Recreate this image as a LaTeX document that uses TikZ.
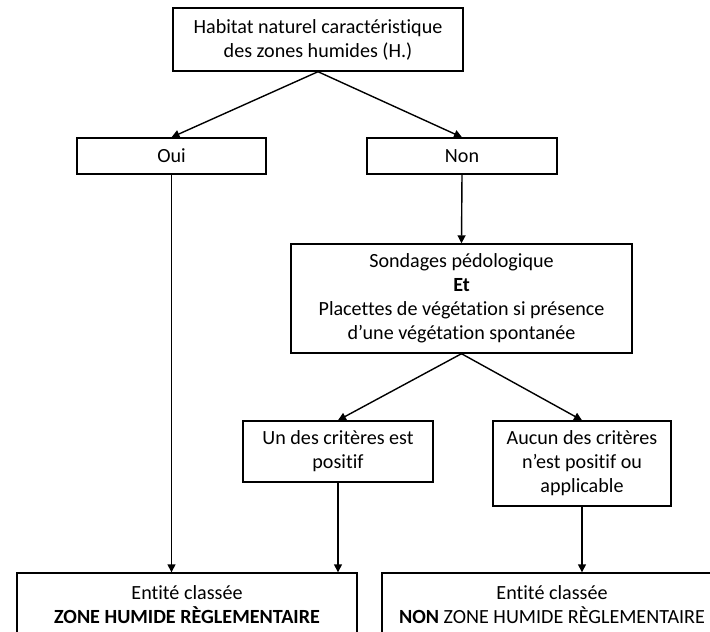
\documentclass[tikz,border=0pt]{standalone}
\usepackage{fontspec}
\setmainfont{Carlito}[Ligatures=NoCommon]
\usetikzlibrary{arrows.meta}
\tikzset{
  boite/.style={draw, line width=1.4pt, align=center, inner sep=0pt},
  fleche/.style={-{Triangle[length=8pt,width=8pt]}, line width=1.4pt}
}
\begin{document}
\begin{tikzpicture}[x=1pt,y=-1pt,font=\fontsize{20.1}{24}\selectfont]
      % cadre de la page
      \clip (0,0) rectangle (710,632);
      % critère habitat
      \node[boite,minimum width=290pt,minimum height=63pt] (hab) at (318,39.5)
        {Habitat naturel caractéristique\\des zones humides (H.)};
      \node[boite,minimum width=189pt,minimum height=36pt] (oui) at (171.5,156) {Oui};
      \node[boite,minimum width=190pt,minimum height=36pt] (non) at (462,156) {Non};
      % sondages et placettes
      \node[boite,minimum width=341pt,minimum height=109pt] (sond) at (461.5,298.5)
        {Sondages pédologique\\\textbf{Et}\\Placettes de végétation si présence\\d’une végétation spontanée};
      \node[boite,minimum width=190pt,minimum height=61pt] (un) at (338,451.5)
        {Un des critères est\\positif};
      \node[boite,minimum width=178pt,minimum height=85pt] (aucun) at (582,463.5)
        {Aucun des critères\\n’est positif ou\\applicable};
      % résultats
      \node[boite,minimum width=340pt,minimum height=64pt] (zh) at (187,605)
        {Entité classée\\\textbf{ZONE HUMIDE RÈGLEMENTAIRE}};
      \node[boite,minimum width=340pt,minimum height=64pt] (nzh) at (552,605)
        {Entité classée\\\textbf{NON} ZONE HUMIDE RÈGLEMENTAIRE};
      % flèches
      \draw[fleche] (hab.south) -- (oui.north);
      \draw[fleche] (hab.south) -- (non.north);
      \draw[fleche] (non.south) -- (sond.north);
      \draw[fleche] (sond.south) -- (un.north);
      \draw[fleche] (sond.south) -- (aucun.north);
      \draw[fleche] (oui.south) -- (oui.south |- zh.north);
      \draw[fleche] (un.south) -- (un.south |- zh.north);
      \draw[fleche] (aucun.south) -- (aucun.south |- nzh.north);
    \end{tikzpicture}
\end{document}
